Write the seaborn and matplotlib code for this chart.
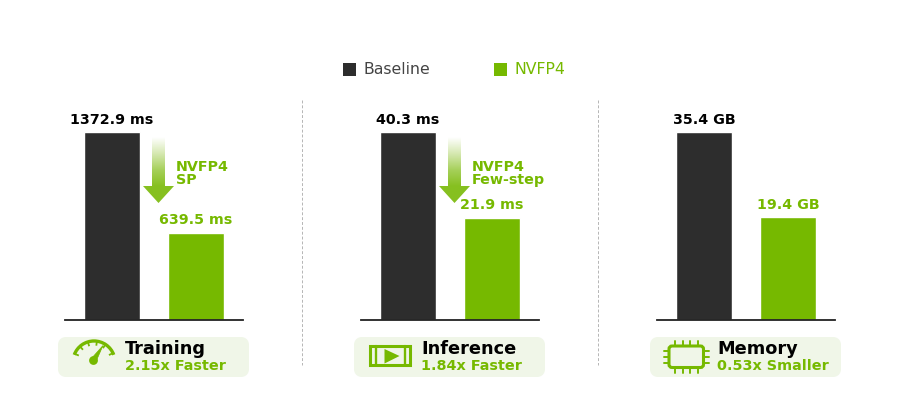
import numpy as np
import pandas as pd
import matplotlib
matplotlib.use("Agg")
import matplotlib.pyplot as plt
import seaborn as sns
from matplotlib.patches import Rectangle, FancyBboxPatch, Polygon, Arc, Circle
from matplotlib.colors import LinearSegmentedColormap

series = ["Baseline", "NVFP4"]
panel_names = ["Training", "Inference", "Memory"]
baseline_values = [1372.9, 40.3, 35.4]
nvfp4_values = [639.5, 21.9, 19.4]
units = ["ms", "ms", "GB"]
factors = ["2.15x Faster", "1.84x Faster", "0.53x Smaller"]
notes = ["NVFP4\nSP", "NVFP4\nFew-step", None]

DARK = "#2d2d2d"
GREEN = "#76b900"
W, H = 900, 408

sns.set_theme(style="white")
plt.rcParams["font.family"] = ["DejaVu Sans"]
fig = plt.figure(figsize=(W / 100, H / 100), dpi=100, facecolor="white")

def axes_px(x0, y0, x1, y1, **kw):
    return fig.add_axes([x0 / W, 1 - y1 / H, (x1 - x0) / W, (y1 - y0) / H], **kw)

# overlay in pixel coordinates for decoration
ov = axes_px(0, 0, W, H, zorder=0)
ov.set_xlim(0, W); ov.set_ylim(H, 0); ov.axis("off")

offsets = [0, 296, 592]
for i, dx in enumerate(offsets):
    ax = axes_px(65 + dx, 132.4, 243 + dx, 320, zorder=2)
    ax.patch.set_alpha(0)
    df = pd.DataFrame({"series": series, "value": [baseline_values[i], nvfp4_values[i]]})
    sns.barplot(data=df, x="series", y="value", hue="series", dodge=False,
                palette=[DARK, GREEN], width=0.675, legend=False, ax=ax, saturation=1)
    ax.set_xlim(-0.56, 1.56)
    ax.set_ylim(0, baseline_values[i])
    ax.set_xticks([]); ax.set_yticks([])
    ax.set_xlabel(""); ax.set_ylabel("")
    for s in ["top", "left", "right"]:
        ax.spines[s].set_visible(False)
    ax.spines["bottom"].set_color("#222222")
    ax.spines["bottom"].set_linewidth(1.3)
    for j, (v, c) in enumerate(zip(df["value"], ["black", GREEN])):
        ax.annotate(f"{v} {units[i]}", xy=(j, v), xytext=(0, 4), textcoords="offset points",
                    ha="center", va="bottom", fontsize=10.3, fontweight="bold", color=c,
                    annotation_clip=False)

    # footer card
    ov.add_patch(FancyBboxPatch((62 + dx, 341), 183, 32, boxstyle="round,pad=0,rounding_size=4",
                                mutation_aspect=1, fc="#f0f6e8", ec="#f0f6e8", lw=8 * 0.72, joinstyle="round"))
    ov.text(125 + dx, 348.5, panel_names[i], fontsize=12.8, fontweight="bold", color="black",
            ha="left", va="center")
    ov.text(125 + dx, 366, factors[i], fontsize=10.4, fontweight="bold", color=GREEN,
            ha="left", va="center")

    # reduction arrow and note
    if notes[i]:
        cmap = LinearSegmentedColormap.from_list("fade", ["#ffffff", "#d5e8b0", "#a6d05a", "#86c020", "#86c020"])
        grad = np.linspace(0, 1, 128).reshape(-1, 1)
        im = ov.imshow(grad, extent=(143 + dx, 174 + dx, 203, 137), cmap=cmap, aspect="auto",
                       origin="upper", zorder=1)
        arrow = Polygon([(152 + dx, 137), (165 + dx, 137), (165 + dx, 186), (174 + dx, 186),
                         (158.5 + dx, 203), (143 + dx, 186), (152 + dx, 186)],
                        closed=True, transform=ov.transData, fc="none", ec="none")
        ov.add_patch(arrow)
        im.set_clip_path(arrow)
        ov.text(176 + dx, 173.5, notes[i], fontsize=10.3, fontweight="bold", color=GREEN,
                ha="left", va="center", linespacing=0.98)

ov.set_xlim(0, W); ov.set_ylim(H, 0)

# separators
for x in [302, 598]:
    ov.plot([x, x], [100, 365], color="#b5b5b5", lw=0.7, ls=(0, (3, 2)))

# legend
ov.add_patch(Rectangle((343, 62.5), 13, 13, fc=DARK, ec="none"))
ov.text(363.5, 69, series[0], fontsize=11.3, color="#444444", ha="left", va="center")
ov.add_patch(Rectangle((494, 62.5), 13, 13, fc=GREEN, ec="none"))
ov.text(515, 69, series[1], fontsize=11.3, color=GREEN, ha="left", va="center")

# gauge icon
cx, cy, r = 94, 362, 21
ov.add_patch(Arc((cx, cy), 2 * r, 2 * r, theta1=200, theta2=340, ec=GREEN, lw=2.4))
for ang in [157, 132, 107, 82, 57, 25]:
    t = np.deg2rad(ang)
    ov.plot([cx + r * np.cos(t), cx + (r - 4.5) * np.cos(t)],
            [cy - r * np.sin(t), cy - (r - 4.5) * np.sin(t)], color=GREEN, lw=1.3, solid_capstyle="butt")
ov.add_patch(Circle((93.5, 360.5), 4.4, fc=GREEN, ec="none"))
ov.add_patch(Polygon([(91, 359), (96, 361.5), (103, 345.5)], closed=True, fc=GREEN, ec=GREEN, lw=0.5))

# film icon
ov.add_patch(Rectangle((370, 346), 40, 18.5, fc="none", ec=GREEN, lw=2.2))
for x in [375.5, 405]:
    ov.plot([x, x], [346, 364.5], color=GREEN, lw=1.7)
ov.add_patch(Polygon([(384.5, 349), (384.5, 363.5), (399.5, 356)], closed=True, fc=GREEN, ec="none"))

# chip icon
ov.add_patch(FancyBboxPatch((669, 346), 34.5, 21.5, boxstyle="round,pad=0,rounding_size=3",
                            fc="none", ec=GREEN, lw=2.2))
for x in [675, 682.5, 690, 697.5]:
    ov.plot([x, x], [341, 345.5], color=GREEN, lw=1.4)
    ov.plot([x, x], [368, 372.5], color=GREEN, lw=1.4)
for y in [350.5, 356.5, 362.5]:
    ov.plot([664, 668.5], [y, y], color=GREEN, lw=1.4)
    ov.plot([704, 708.5], [y, y], color=GREEN, lw=1.4)

fig.savefig("out.png", dpi=100, facecolor="white")
